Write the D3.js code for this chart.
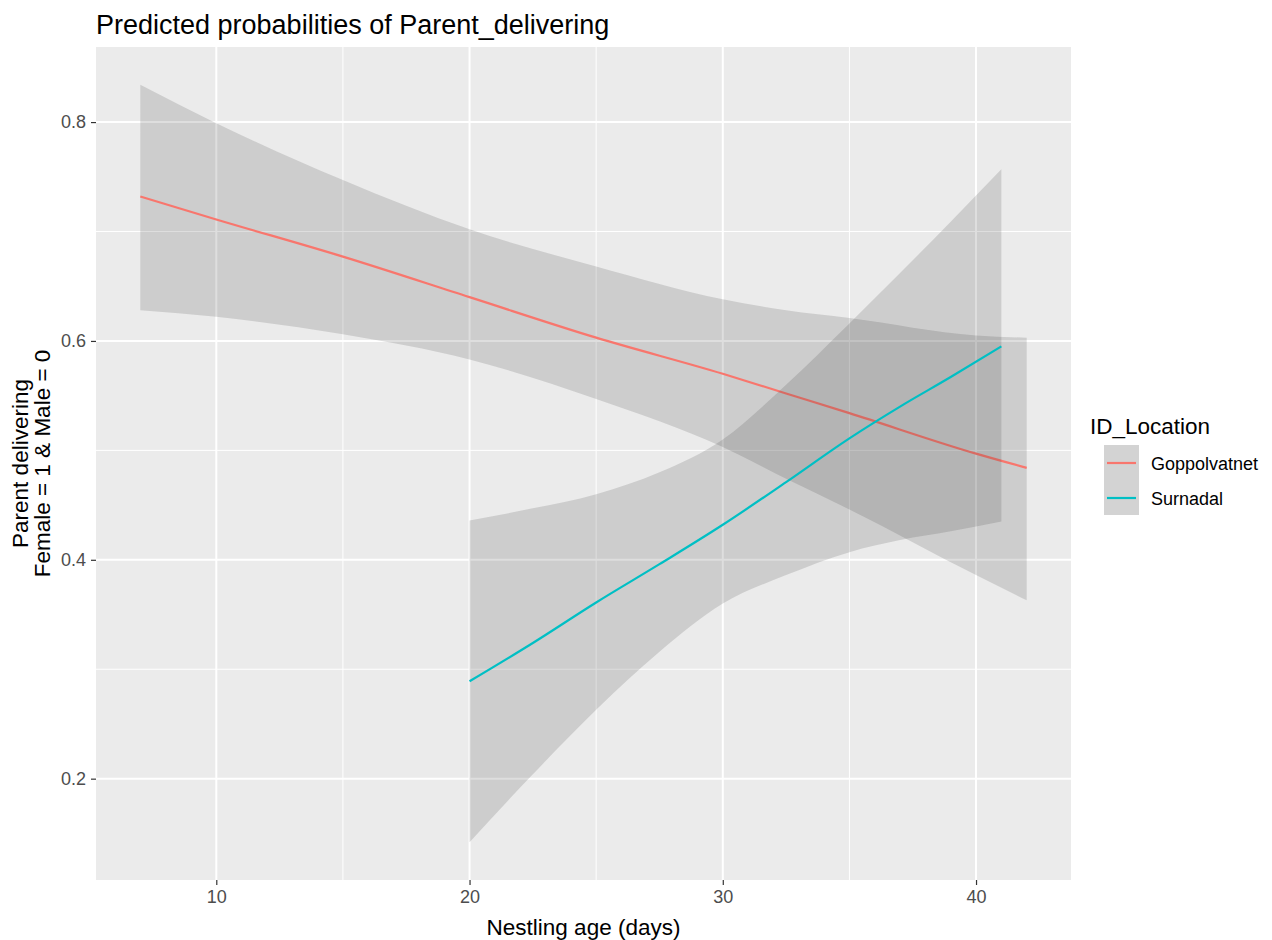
<!DOCTYPE html>
<html><head><meta charset="utf-8">
<script src="https://cdn.jsdelivr.net/npm/d3@7"></script>
<style>body{margin:0;background:#fff;} text{font-family:"Liberation Sans",Arial,sans-serif;}</style>
</head><body>
<svg id="chart" width="1272" height="940"></svg>
<script>
// ---- data ----
const seriesNames = ["Goppolvatnet", "Surnadal"];
const seriesColors = ["#F8766D", "#00BFC4"];

const goppDays  = [7, 10, 15, 20, 25, 30, 32.5, 35, 40, 42];
const goppPred  = [0.732, 0.711, 0.677, 0.640, 0.603, 0.570, 0.552, 0.534, 0.497, 0.484];
const goppUpper = [0.834, 0.799, 0.747, 0.702, 0.668, 0.638, 0.628, 0.621, 0.605, 0.603];
const goppLower = [0.628, 0.622, 0.606, 0.583, 0.547, 0.503, 0.474, 0.446, 0.386, 0.363];

const surnDays  = [20, 22.5, 25, 27.5, 30, 32.5, 35, 37, 39, 41];
const surnPred  = [0.289, 0.324, 0.361, 0.396, 0.432, 0.471, 0.511, 0.540, 0.567, 0.595];
const surnUpper = [0.436, 0.447, 0.460, 0.480, 0.510, 0.560, 0.616, 0.662, 0.709, 0.757];
const surnLower = [0.142, 0.204, 0.263, 0.316, 0.360, 0.386, 0.407, 0.418, 0.426, 0.435];

const xTicks = [10, 20, 30, 40];
const xMinor = [15, 25, 35];
const yTicks = [0.2, 0.4, 0.6, 0.8];
const yMinor = [0.3, 0.5, 0.7];

const titleText = "Predicted probabilities of Parent_delivering";
const xTitle = "Nestling age (days)";
const yTitle = ["Parent delivering", "Female = 1 & Male = 0"];
const legendTitle = "ID_Location";

// ---- layout ----
const P = {left: 96, right: 1071, top: 47, bottom: 880};
const svg = d3.select("#chart");

const toRows = (d, p, lo, hi) => d.map((x, i) => ({x, p: p[i], lo: lo[i], hi: hi[i]}));
const groups = [toRows(goppDays, goppPred, goppLower, goppUpper), toRows(surnDays, surnPred, surnLower, surnUpper)];

const allX = goppDays.concat(surnDays);
const allY = goppLower.concat(goppUpper, surnLower, surnUpper);
const xr = d3.extent(allX), yr = d3.extent(allY);
const xe = (xr[1]-xr[0])*0.05, ye = (yr[1]-yr[0])*0.05;
const x = d3.scaleLinear().domain([xr[0]-xe, xr[1]+xe]).range([P.left, P.right]);
const y = d3.scaleLinear().domain([yr[0]-ye, yr[1]+ye]).range([P.bottom, P.top]);

// panel
svg.append("rect").attr("x", P.left).attr("y", P.top).attr("width", P.right-P.left).attr("height", P.bottom-P.top).attr("fill", "#EBEBEB");
const grid = svg.append("g");
grid.selectAll(".vmin").data(xMinor).join("line").attr("x1", d=>x(d)).attr("x2", d=>x(d)).attr("y1", P.top).attr("y2", P.bottom).attr("stroke", "#fff").attr("stroke-width", 1);
grid.selectAll(".hmin").data(yMinor).join("line").attr("y1", d=>y(d)).attr("y2", d=>y(d)).attr("x1", P.left).attr("x2", P.right).attr("stroke", "#fff").attr("stroke-width", 1);
grid.selectAll(".vmaj").data(xTicks).join("line").attr("x1", d=>x(d)).attr("x2", d=>x(d)).attr("y1", P.top).attr("y2", P.bottom).attr("stroke", "#fff").attr("stroke-width", 2);
grid.selectAll(".hmaj").data(yTicks).join("line").attr("y1", d=>y(d)).attr("y2", d=>y(d)).attr("x1", P.left).attr("x2", P.right).attr("stroke", "#fff").attr("stroke-width", 2);

const area = d3.area().x(d=>x(d.x)).y0(d=>y(d.lo)).y1(d=>y(d.hi)).curve(d3.curveMonotoneX);
const line = d3.line().x(d=>x(d.x)).y(d=>y(d.p)).curve(d3.curveMonotoneX);

groups.forEach((g, i) => {
  svg.append("path").datum(g).attr("d", area).attr("fill", "#333").attr("fill-opacity", 0.16);
  svg.append("path").datum(g).attr("d", line).attr("fill", "none").attr("stroke", seriesColors[i]).attr("stroke-width", 2.2);
});

// axes
const xAxis = svg.append("g").attr("transform", `translate(0,${P.bottom})`)
  .call(d3.axisBottom(x).tickValues(xTicks).tickSize(5).tickPadding(5).tickFormat(d3.format("d")));
const yAxis = svg.append("g").attr("transform", `translate(${P.left},0)`)
  .call(d3.axisLeft(y).tickValues(yTicks).tickSize(5).tickPadding(5).tickFormat(d3.format(".1f")));
[xAxis, yAxis].forEach(a => {
  a.select(".domain").remove();
  a.selectAll(".tick line").attr("stroke", "#333").attr("stroke-width", 1.2);
  a.selectAll(".tick text").attr("fill", "#4D4D4D").style("font-size", "18px").style("font-family", "Liberation Sans, Arial, sans-serif");
});

// titles
svg.append("text").attr("x", P.left).attr("y", 34).text(titleText).attr("fill", "#000").style("font-size", "27px");
svg.append("text").attr("x", (P.left+P.right)/2).attr("y", 935).attr("text-anchor", "middle").text(xTitle).style("font-size", "22.5px");
const yt = svg.append("text").attr("transform", `translate(0,${(P.top+P.bottom)/2}) rotate(-90)`).attr("text-anchor", "middle").style("font-size", "22.5px");
yt.append("tspan").attr("x", 0).attr("y", 28).text(yTitle[0]);
yt.append("tspan").attr("x", 0).attr("y", 50).text(yTitle[1]);

// legend
const L = svg.append("g");
L.append("text").attr("x", 1090).attr("y", 434).text(legendTitle).style("font-size", "22.5px");
L.append("rect").attr("x", 1104).attr("y", 445).attr("width", 35).attr("height", 70).attr("fill", "#F2F2F2");
seriesNames.forEach((n, i) => {
  const cy = 463 + i*35;
  L.append("rect").attr("x", 1104).attr("y", 445 + i*35).attr("width", 35).attr("height", 35).attr("fill", "#333").attr("fill-opacity", 0.16);
  L.append("line").attr("x1", 1107).attr("x2", 1136).attr("y1", cy).attr("y2", cy).attr("stroke", seriesColors[i]).attr("stroke-width", 2.2);
  L.append("text").attr("x", 1151).attr("y", cy + 6.5).text(n).style("font-size", "18px");
});
</script>
</body></html>
